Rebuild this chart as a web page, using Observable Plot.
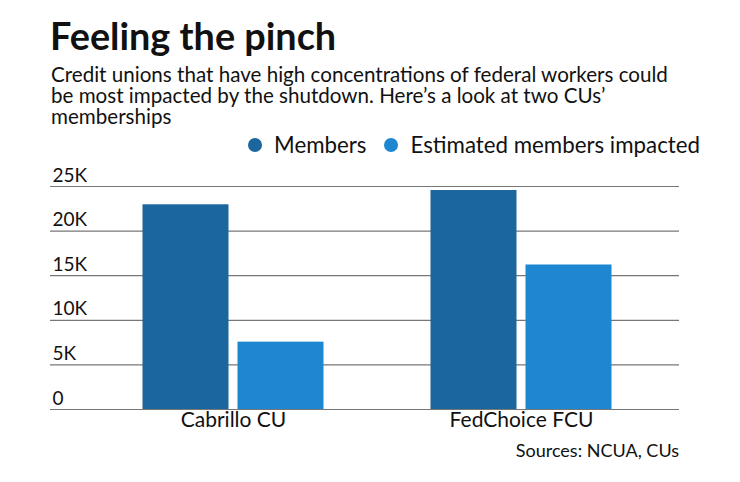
<!DOCTYPE html>
<html>
<head>
<meta charset="utf-8">
<script src="https://cdn.jsdelivr.net/npm/d3@7"></script>
<script src="https://cdn.jsdelivr.net/npm/@observablehq/plot@0.6"></script>
<style>
  html, body { margin: 0; padding: 0; background: #fff; }
  body { width: 740px; height: 482px; position: relative; font-family: Lato, "Noto Sans", sans-serif; color: #111; overflow: hidden; }
  #title { position: absolute; left: 50px; top: 13px; font-size: 37.8px; font-weight: 700; line-height: 46px; }
  #subtitle { position: absolute; left: 51px; top: 64px; width: 640px; font-size: 20.6px; line-height: 21px; }
  #legend { position: absolute; right: 40px; top: 133px; font-size: 22.3px; line-height: 24px; display: flex; align-items: center; }
  #legend .item { display: flex; align-items: center; margin-left: 18px; }
  #legend .dot { width: 14px; height: 14px; border-radius: 50%; margin-right: 12px; }
  #chart { position: absolute; left: 0; top: 158px; }
  #caption { position: absolute; right: 61px; top: 439px; font-size: 18px; line-height: 22px; }
</style>
</head>
<body>
<div id="title">Feeling the pinch</div>
<div id="subtitle">Credit unions that have high concentrations of federal workers could be most impacted by the shutdown. Here’s a look at two CUs’ memberships</div>
<div id="legend"></div>
<div id="chart"></div>
<div id="caption">Sources: NCUA, CUs</div>
<script>
const categories = ["Cabrillo CU", "FedChoice FCU"];
const seriesNames = ["Members", "Estimated members impacted"];
const members = [22950, 24550];
const impacted = [7550, 16200];
const yTicks = [0, 5000, 10000, 15000, 20000, 25000];
const colors = ["#1c669e", "#1d87d1"];

const table = categories.flatMap((c, i) => [
  {category: c, series: seriesNames[0], value: members[i]},
  {category: c, series: seriesNames[1], value: impacted[i]}
]);

const legend = document.getElementById("legend");
seriesNames.forEach((s, i) => {
  const item = document.createElement("div");
  item.className = "item";
  item.innerHTML = `<span class="dot" style="background:${colors[i]}"></span><span>${s}</span>`;
  legend.appendChild(item);
});

const chart = Plot.plot({
  width: 740,
  height: 280,
  marginLeft: 50,
  marginRight: 61,
  marginTop: 28,
  marginBottom: 29,
  style: {fontFamily: "Lato, 'Noto Sans', sans-serif", fontSize: "19px", color: "#111", background: "transparent"},
  x: {type: "band", domain: categories, range: [88.5, 664.5], padding: 0},
  y: {domain: [0, 25000], ticks: yTicks},
  color: {domain: seriesNames, range: colors},
  marks: [
    Plot.ruleY(yTicks, {stroke: "#777", strokeWidth: 1.2}),
    Plot.barY(table.filter(d => d.series === seriesNames[0]), {x: "category", y: "value", fill: "series", insetLeft: 53.5, insetRight: 148.5}),
    Plot.barY(table.filter(d => d.series === seriesNames[1]), {x: "category", y: "value", fill: "series", insetLeft: 148.5, insetRight: 53.5}),
    Plot.axisY(yTicks, {tickSize: 0, tickPadding: -2, textAnchor: "start", dy: -11, fontSize: 19, fill: "#111",
      tickFormat: d => d === 0 ? "0" : (d / 1000) + "K", label: null}),
    Plot.axisX({tickSize: 0, tickPadding: 3, fontSize: 21, fill: "#111", label: null})
  ]
});
document.getElementById("chart").appendChild(chart);
</script>
</body>
</html>
